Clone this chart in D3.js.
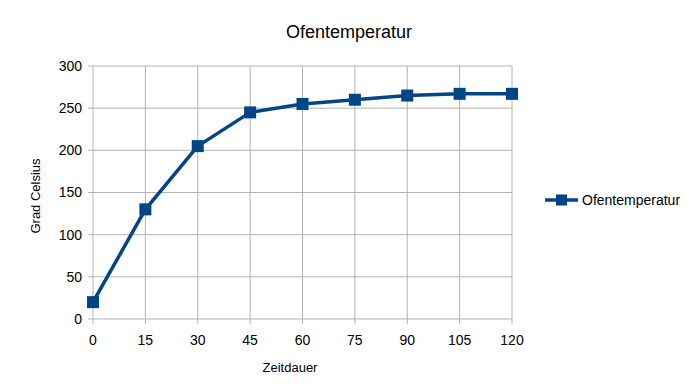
<!DOCTYPE html>
<html>
<head>
<meta charset="utf-8">
<script src="https://cdn.jsdelivr.net/npm/d3@7"></script>
<style>
body { margin: 0; background: #fff; }
text { font-family: "Liberation Sans", Arial, sans-serif; fill: #000; }
</style>
</head>
<body>
<svg width="693" height="385"></svg>
<script>
// Data
const minutes = [0, 15, 30, 45, 60, 75, 90, 105, 120];
const temps = [20, 130, 205, 245, 255, 260, 265, 267, 267];
const yTicks = [0, 50, 100, 150, 200, 250, 300];
const seriesName = "Ofentemperatur";

const svg = d3.select("svg");
const color = "#004586";

const x = d3.scaleLinear().domain([0, 120]).range([93, 512]);
const y = d3.scaleLinear().domain([0, 300]).range([319, 66]);

// Grid
const grid = svg.append("g");
grid.selectAll(".hg").data(yTicks).join("line")
  .attr("x1", 88).attr("x2", 512)
  .attr("y1", d => y(d)).attr("y2", d => y(d))
  .attr("stroke", "#b3b3b3").attr("stroke-width", 1);
grid.selectAll(".vg").data(minutes).join("line")
  .attr("x1", d => x(d)).attr("x2", d => x(d))
  .attr("y1", 66).attr("y2", 324)
  .attr("stroke", "#b3b3b3").attr("stroke-width", 1);

// Tick labels
svg.append("g").selectAll("text").data(yTicks).join("text")
  .attr("x", 82).attr("y", d => y(d)).attr("dy", "0.35em")
  .attr("text-anchor", "end").attr("font-size", 14)
  .text(d => d);
svg.append("g").selectAll("text").data(minutes).join("text")
  .attr("x", d => x(d)).attr("y", 345)
  .attr("text-anchor", "middle").attr("font-size", 14)
  .text(d => d);

// Line and markers
const line = d3.line().x((d, i) => x(minutes[i])).y(d => y(d));
svg.append("path").datum(temps)
  .attr("d", line).attr("fill", "none")
  .attr("stroke", color).attr("stroke-width", 3.5).attr("stroke-linejoin", "round");
svg.append("g").selectAll("rect").data(temps).join("rect")
  .attr("x", (d, i) => x(minutes[i]) - 6).attr("y", d => y(d) - 6)
  .attr("width", 12).attr("height", 12).attr("fill", color);

// Titles
svg.append("text").attr("x", 349).attr("y", 38)
  .attr("text-anchor", "middle").attr("font-size", 18).text(seriesName);
svg.append("text").attr("x", 290).attr("y", 372)
  .attr("text-anchor", "middle").attr("font-size", 13).text("Zeitdauer");
svg.append("text").attr("transform", "translate(40,196) rotate(-90)")
  .attr("text-anchor", "middle").attr("font-size", 13).text("Grad Celsius");

// Legend
const lg = svg.append("g").attr("transform", "translate(545,200)");
lg.append("line").attr("x1", 0).attr("x2", 33).attr("y1", 0).attr("y2", 0)
  .attr("stroke", color).attr("stroke-width", 3.5);
lg.append("rect").attr("x", 11).attr("y", -5.5).attr("width", 11).attr("height", 11).attr("fill", color);
lg.append("text").attr("x", 37).attr("y", 0).attr("dy", "0.35em")
  .attr("font-size", 14).text(seriesName);
</script>
</body>
</html>
